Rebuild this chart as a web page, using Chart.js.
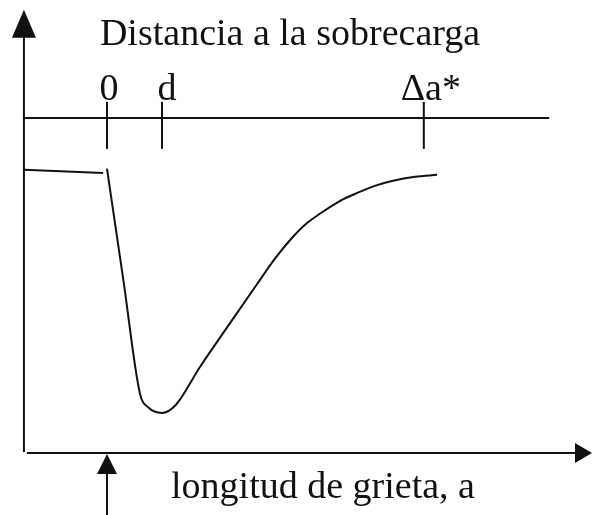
<!DOCTYPE html>
<html>
<head>
<meta charset="utf-8">
<script src="https://cdn.jsdelivr.net/npm/chart.js@4"></script>
<style>
  html, body { margin: 0; padding: 0; background: #fff; }
  #wrap { width: 592px; height: 515px; position: relative; }
</style>
</head>
<body>
<div id="wrap"><canvas id="retardo"></canvas></div>
<script>
// Posiciones de las marcas sobre la linea de distancia (unidad = d)
const marcas = ['0', 'd', 'Δa*'];
const posMarcas = [0, 1, 5.76];

// Tramo antes de la sobrecarga (velocidad normalizada)
const tramoX = [-1.51, -0.07];
const tramoY = [1.004, 0.993];

// Retardo tras la sobrecarga
const curvaX = [0, 0.3, 0.6, 0.75, 1.0, 1.25, 1.69, 2.24, 2.73, 3.05, 3.33, 3.6, 3.87, 4.24, 4.55, 4.87, 5.2, 5.6, 6.0];
const curvaY = [1.008, 0.61, 0.21, 0.162, 0.142, 0.17, 0.305, 0.461, 0.599, 0.688, 0.755, 0.809, 0.848, 0.894, 0.922, 0.947, 0.965, 0.979, 0.986];

const tituloSup = 'Distancia a la sobrecarga';
const tituloInf = 'longitud de grieta, a';

const fuente = '38px "Liberation Serif", "Times New Roman", serif';
const negro = '#111';

function puntos(xs, ys) {
    return xs.map((x, i) => ({ x: x, y: ys[i] }));
}

function flecha(ctx, x, y, dx, dy, largo, ancho) {
    // punta en (x, y), apuntando en la direccion (dx, dy)
    const bx = x - dx * largo, by = y - dy * largo;
    ctx.beginPath();
    ctx.moveTo(x, y);
    ctx.lineTo(bx - dy * ancho, by + dx * ancho);
    ctx.lineTo(bx + dy * ancho, by - dx * ancho);
    ctx.closePath();
    ctx.fill();
}

const ejes = {
    id: 'ejes',
    afterDatasetsDraw(chart) {
        const ctx = chart.ctx;
        const sx = chart.scales.x, sy = chart.scales.y;
        const x0 = sx.getPixelForValue(-1.51);
        const y0 = sy.getPixelForValue(0);
        const yTop = sy.getPixelForValue(1.571);
        const xFin = chart.width;
        const yDist = sy.getPixelForValue(1.188);

        ctx.save();
        ctx.strokeStyle = negro;
        ctx.fillStyle = negro;
        ctx.lineWidth = 2;

        // eje vertical
        ctx.beginPath();
        ctx.moveTo(x0, y0 - 1);
        ctx.lineTo(x0, yTop + 20);
        ctx.stroke();
        flecha(ctx, x0, yTop, 0, -1, 28, 12);

        // eje horizontal
        ctx.beginPath();
        ctx.moveTo(x0 + 3, y0);
        ctx.lineTo(xFin - 12, y0);
        ctx.stroke();
        flecha(ctx, xFin, y0, 1, 0, 17, 10);

        // linea de distancia con sus marcas
        ctx.beginPath();
        ctx.moveTo(x0, yDist);
        ctx.lineTo(sx.getPixelForValue(8.04), yDist);
        ctx.stroke();
        const dxEtiqueta = [2, 5, 7];
        ctx.font = fuente;
        ctx.textAlign = 'center';
        ctx.textBaseline = 'alphabetic';
        marcas.forEach((m, i) => {
            const px = sx.getPixelForValue(posMarcas[i]);
            ctx.beginPath();
            ctx.moveTo(px, yDist - 16);
            ctx.lineTo(px, yDist + 31);
            ctx.stroke();
            ctx.fillText(m, px + dxEtiqueta[i], yDist - 18);
        });

        // flecha de la sobrecarga
        const xs = sx.getPixelForValue(0);
        ctx.beginPath();
        ctx.moveTo(xs, chart.height);
        ctx.lineTo(xs, y0 + 15);
        ctx.stroke();
        flecha(ctx, xs, y0 + 1, 0, -1, 20, 10);

        // textos
        ctx.fillText(tituloSup, 290, 45);
        ctx.fillText(tituloInf, 323, 498);
        ctx.restore();
    }
};

new Chart(document.getElementById('retardo'), {
    type: 'line',
    data: {
        datasets: [
            {
                data: puntos(tramoX, tramoY),
                borderColor: negro,
                borderWidth: 2,
                pointRadius: 0,
                tension: 0
            },
            {
                data: puntos(curvaX, curvaY),
                borderColor: negro,
                borderWidth: 2,
                pointRadius: 0,
                cubicInterpolationMode: 'monotone'
            }
        ]
    },
    options: {
        responsive: true,
        maintainAspectRatio: false,
        animation: false,
        layout: { padding: 0 },
        scales: {
            x: { type: 'linear', display: false, min: -1.945, max: 8.818 },
            y: { type: 'linear', display: false, min: -0.22, max: 1.606 }
        },
        plugins: {
            legend: { display: false },
            tooltip: { enabled: false },
            title: { display: false }
        }
    },
    plugins: [ejes]
});
</script>
</body>
</html>
